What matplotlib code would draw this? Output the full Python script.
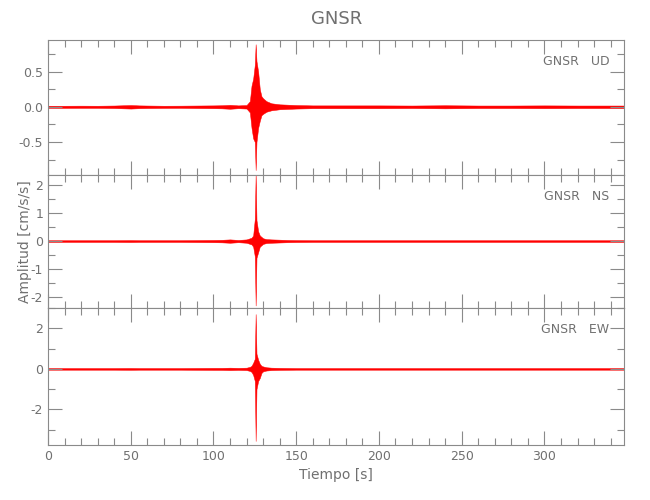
import matplotlib
matplotlib.use("Agg")
import matplotlib.pyplot as plt
from matplotlib.ticker import MultipleLocator, FormatStrFormatter

# tiempos (s) donde se leyó la envolvente de cada traza
tiempo = [0, 10, 20, 30, 40, 50, 55, 60, 70, 80, 90, 100, 105, 110, 115, 120,
          122, 123, 124, 125, 125.5, 126, 127, 128, 129, 130, 132, 135, 140,
          145, 150, 160, 180, 200, 220, 240, 260, 280, 300, 320, 340, 348]

# envolvente superior / inferior, componente UD
ud_sup = [0.015, 0.015, 0.016, 0.015, 0.018, 0.025, 0.02, 0.018, 0.015, 0.016, 0.018, 0.02,
          0.022, 0.028, 0.02, 0.025, 0.08, 0.3, 0.4, 0.6, 0.89, 0.65, 0.5, 0.25, 0.15, 0.12,
          0.08, 0.05, 0.035, 0.03, 0.025, 0.02, 0.02, 0.02, 0.018, 0.022, 0.018, 0.018,
          0.02, 0.018, 0.018, 0.018]
ud_inf = [-0.015, -0.016, -0.015, -0.015, -0.018, -0.025, -0.02, -0.018, -0.016, -0.015, -0.018, -0.02,
          -0.022, -0.028, -0.02, -0.025, -0.08, -0.3, -0.45, -0.5, -0.9, -0.5, -0.3, -0.2, -0.12, -0.1,
          -0.07, -0.05, -0.035, -0.03, -0.025, -0.02, -0.02, -0.02, -0.018, -0.022, -0.018, -0.018,
          -0.02, -0.018, -0.018, -0.018]

# componente NS
ns_sup = [0.03, 0.03, 0.03, 0.03, 0.03, 0.035, 0.03, 0.03, 0.03, 0.03, 0.035, 0.04,
          0.045, 0.06, 0.04, 0.06, 0.1, 0.12, 0.2, 0.8, 2.4, 0.75, 0.35, 0.2, 0.15, 0.1,
          0.07, 0.06, 0.05, 0.04, 0.035, 0.03, 0.03, 0.03, 0.03, 0.03, 0.03, 0.03,
          0.03, 0.03, 0.03, 0.03]
ns_inf = [-0.03, -0.03, -0.03, -0.03, -0.03, -0.035, -0.03, -0.03, -0.03, -0.03, -0.035, -0.04,
          -0.045, -0.06, -0.04, -0.06, -0.1, -0.12, -0.2, -0.55, -2.3, -0.6, -0.4, -0.2, -0.15, -0.1,
          -0.07, -0.06, -0.05, -0.04, -0.035, -0.03, -0.03, -0.03, -0.03, -0.03, -0.03, -0.03,
          -0.03, -0.03, -0.03, -0.03]

# componente EW
ew_sup = [0.04, 0.04, 0.04, 0.04, 0.04, 0.045, 0.04, 0.04, 0.04, 0.04, 0.045, 0.05,
          0.05, 0.06, 0.05, 0.06, 0.1, 0.15, 0.3, 0.5, 2.7, 0.75, 0.45, 0.25, 0.15, 0.12,
          0.08, 0.06, 0.05, 0.045, 0.04, 0.04, 0.04, 0.04, 0.04, 0.04, 0.04, 0.04,
          0.04, 0.04, 0.04, 0.04]
ew_inf = [-0.04, -0.04, -0.04, -0.04, -0.04, -0.045, -0.04, -0.04, -0.04, -0.04, -0.045, -0.05,
          -0.05, -0.06, -0.05, -0.06, -0.1, -0.15, -0.3, -0.6, -3.55, -1.0, -0.6, -0.45, -0.2, -0.12,
          -0.08, -0.06, -0.05, -0.045, -0.04, -0.04, -0.04, -0.04, -0.04, -0.04, -0.04, -0.04,
          -0.04, -0.04, -0.04, -0.04]

etiquetas = ["GNSR   UD", "GNSR   NS", "GNSR   EW"]

gris = "#8a8a8a"
texto = "#707070"

fig = plt.figure(figsize=(6.5, 5), dpi=100)

# [bottom, height, ylim, major, minor, formato]
paneles = [
    (0.65, 0.27, (-0.97, 0.95), 0.5, 0.25, "%.1f", ud_sup, ud_inf),
    (0.384, 0.266, (-2.39, 2.36), 1, 0.5, "%d", ns_sup, ns_inf),
    (0.11, 0.274, (-3.75, 3.0), 2, 1, "%d", ew_sup, ew_inf),
]

for i, (b, h, yl, mj, mn, fmt, sup, inf) in enumerate(paneles):
    ax = fig.add_axes([0.0738, b, 0.886, h])
    ax.fill_between(tiempo, inf, sup, color="red", edgecolor="red", linewidth=0.35)
    ax.set_xlim(0, 348)
    ax.set_ylim(*yl)
    ax.xaxis.set_major_locator(MultipleLocator(50))
    ax.xaxis.set_minor_locator(MultipleLocator(10))
    ax.yaxis.set_major_locator(MultipleLocator(mj))
    ax.yaxis.set_minor_locator(MultipleLocator(mn))
    ax.yaxis.set_major_formatter(FormatStrFormatter(fmt))
    ax.tick_params(which="both", direction="in", top=True, right=True, colors=gris,
                   labelcolor=texto, labelsize=9)
    ax.tick_params(which="major", length=10, width=0.8)
    ax.tick_params(which="minor", length=5, width=0.8)
    for s in ax.spines.values():
        s.set_color(gris)
        s.set_linewidth(0.8)
    if i < 2:
        ax.tick_params(labelbottom=False)
    else:
        ax.set_xlabel("Tiempo [s]", color=texto, fontsize=10, labelpad=4)
    if i == 1:
        ax.set_ylabel("Amplitud [cm/s/s]", color=texto, fontsize=10, labelpad=-1)
    ax.text(0.975, 0.84, etiquetas[i], transform=ax.transAxes, ha="right", va="center",
            color=texto, fontsize=9)

fig.text(0.518, 0.962, "GNSR", ha="center", va="center", color=texto, fontsize=13)

fig.savefig("out.png", dpi=100)
